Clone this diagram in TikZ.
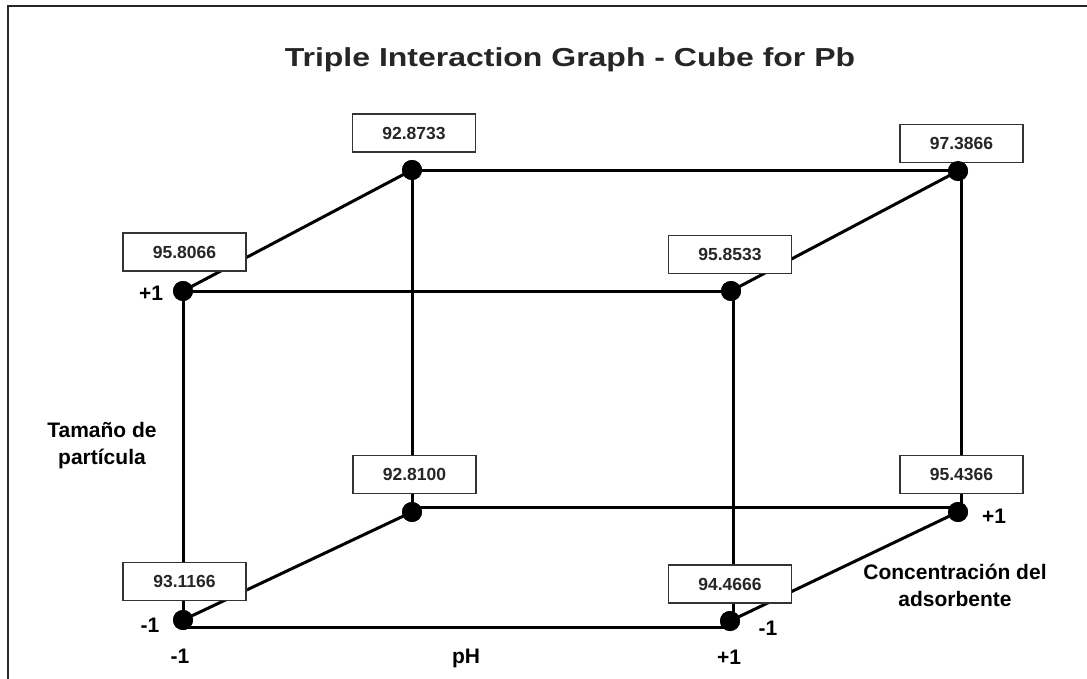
\documentclass[tikz,border=0pt]{standalone}
\usepackage{fontspec}
\setmainfont{Liberation Sans}
\begin{document}
\begin{tikzpicture}[x=1pt,y=-1pt,
  cubeline/.style={line width=3pt, black},
  dotnode/.style={circle, fill=black, inner sep=0pt, minimum size=20pt},
  valbox/.style={draw=black!80, line width=1.3pt, fill=white, minimum width=123pt, minimum height=38pt, inner sep=0pt, font=\bfseries\fontsize{17.5}{20}\selectfont, text=black!85},
  lbl/.style={font=\bfseries\fontsize{21}{27}\selectfont, align=center, inner sep=0pt},
  frameline/.style={line width=2.5pt, black!85}]
\useasboundingbox (0,0) rectangle (1087,679);
\fill[white] (0,0) rectangle (1087,679);

% frame (cropped)
\coordinate (fa) at (8,679);
\coordinate (fb) at (8,6);
\coordinate (fc) at (1087,6);
\draw[frameline] (fa) -- (fb) -- (fc);

% title
\node[font=\bfseries\fontsize{26}{30}\selectfont, anchor=base, text=black!85] (title) at (570,67) {\scalebox{1.23}[1]{Triple Interaction Graph - Cube for Pb}};

% cube corner coordinates (line geometry)
\coordinate (cFTL) at (183,291);
\coordinate (cFTR) at (733,291);
\coordinate (cFBL) at (183,627);
\coordinate (cFBR) at (733,627);
\coordinate (cBTL) at (412,171);
\coordinate (cBTR) at (961,171);
\coordinate (cBBL) at (412,507);
\coordinate (cBBR) at (961,507);

% dots
\node[dotnode] (FTL) at (183,291) {};
\node[dotnode] (FTR) at (731,291) {};
\node[dotnode] (FBL) at (183,620) {};
\node[dotnode] (FBR) at (730,621) {};
\node[dotnode] (BTL) at (412,170) {};
\node[dotnode] (BTR) at (958,171) {};
\node[dotnode] (BBL) at (412,512) {};
\node[dotnode] (BBR) at (958,512) {};

% edges
\draw[cubeline] (cFTL) -- (cFTR) -- (cFBR) -- (cFBL) -- cycle;
\draw[cubeline] (cBTL) -- (cBTR) -- (cBBR) -- (cBBL) -- cycle;
\draw[cubeline] (FTL.center) -- (BTL.center);
\draw[cubeline] (FTR.center) -- (BTR.center);
\draw[cubeline] (FBL.center) -- (BBL.center);
\draw[cubeline] (FBR.center) -- (BBR.center);

% value boxes
\node[valbox] (v1) at (414,133) {92.8733};
\node[valbox] (v2) at (184.5,252) {95.8066};
\node[valbox] (v3) at (961.5,143.5) {97.3866};
\node[valbox] (v4) at (730,254.5) {95.8533};
\node[valbox] (v5) at (414.5,474.5) {92.8100};
\node[valbox] (v6) at (184.5,581.5) {93.1166};
\node[valbox] (v7) at (961.5,474.5) {95.4366};
\node[valbox] (v8) at (730,584) {94.4666};

% dots on top
\foreach \d in {FTL,FTR,FBL,FBR,BTL,BTR,BBL,BBR}
  \fill[black] (\d.center) circle (10pt);

% labels
\node[lbl] (lp1) at (151,293) {+1};
\node[lbl] (lt) at (102,446) {Tamaño de\\partícula};
\node[lbl] (lm1a) at (150,625) {-1};
\node[lbl] (lm1b) at (180,656) {-1};
\node[lbl] (lph) at (466,658) {pH};
\node[lbl] (lp1b) at (729,657) {+1};
\node[lbl] (lm1c) at (768,628) {-1};
\node[lbl] (lp1c) at (994,516) {+1};
\node[lbl] (lc) at (955,585) {Concentración del\\adsorbente};
\end{tikzpicture}
\end{document}
